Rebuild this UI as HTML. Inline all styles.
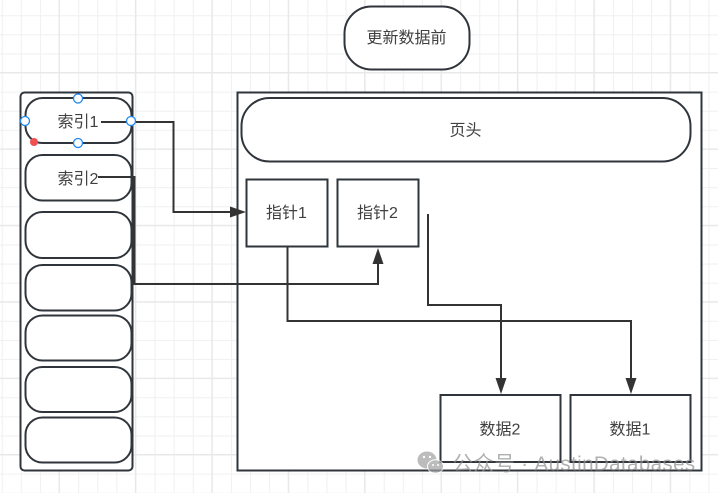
<!DOCTYPE html>
<html><head><meta charset="utf-8"><style>
html,body{margin:0;padding:0;background:#fff;width:718px;height:493px;overflow:hidden}
svg{display:block}
text{font-family:"Liberation Sans","Noto Sans CJK SC",sans-serif;font-size:16px;fill:#404040;text-anchor:middle;dominant-baseline:central}
.s{fill:#fff;stroke:#2f353b;stroke-width:2}
.c{fill:none;stroke:#333;stroke-width:2}
.a{fill:#333}
.h{fill:#fff;stroke:#1e88f0;stroke-width:1.3}
</style></head><body>
<svg width="718" height="493" viewBox="0 0 718 493" xmlns="http://www.w3.org/2000/svg">
<defs>
<pattern id="g" x="1.7" y="15.2" width="19.1" height="19.1" patternUnits="userSpaceOnUse"><path d="M0.5 0V19.1M0 0.5H19.1" fill="none" stroke="#f1f1f1" stroke-width="1.2"/></pattern>
<pattern id="G" x="58.500" y="72" width="76.4" height="76.4" patternUnits="userSpaceOnUse"><path d="M0.5 0V76.4M0 0.5H76.4" fill="none" stroke="#e8e8e8" stroke-width="1.6"/></pattern>
</defs>
<rect width="718" height="493" fill="#fff"/>
<rect width="718" height="493" fill="url(#g)"/>
<rect width="718" height="493" fill="url(#G)"/>

<rect class="s" x="344.500" y="6.500" width="125" height="63" rx="27" ry="27"/>
<text x="406.500" y="38.500">更新数据前</text>

<rect class="s" x="237.500" y="92.500" width="464" height="378"/>
<rect class="s" x="241.500" y="98" width="449" height="63.500" rx="28" ry="28"/>
<text x="465.500" y="131">页头</text>

<rect class="s" x="20.500" y="92.500" width="112" height="378" rx="4" ry="4"/>
<rect class="s" x="25.500" y="98" width="106" height="45" rx="17" ry="17"/>
<rect class="s" x="25.500" y="155" width="106" height="45.500" rx="17" ry="17"/>
<rect class="s" x="25.500" y="212" width="106" height="46" rx="17" ry="17"/>
<rect class="s" x="25.500" y="265" width="106" height="45.500" rx="17" ry="17"/>
<rect class="s" x="25.500" y="315.500" width="106" height="45" rx="17" ry="17"/>
<rect class="s" x="25.500" y="367" width="106" height="45" rx="17" ry="17"/>
<rect class="s" x="25.500" y="417.500" width="106" height="45" rx="17" ry="17"/>
<text x="78" y="122.500">索引1</text>
<text x="78" y="179.500">索引2</text>

<rect class="s" x="246.500" y="179.500" width="81" height="67"/>
<rect class="s" x="337.500" y="179.500" width="81" height="67"/>
<rect class="s" x="440.500" y="395" width="120" height="67"/>
<rect class="s" x="570.500" y="395" width="120" height="67"/>
<text x="286.500" y="213.500">指针1</text>
<text x="377.500" y="213.500">指针2</text>
<text x="500" y="430">数据2</text>
<text x="630" y="430">数据1</text>

<path class="c" d="M101 122H173.500V212H233"/>
<path class="a" d="M246 212L230 206.500V217.500Z"/>
<path class="c" d="M98 177H134.500V284H378V262"/>
<path class="a" d="M378 248L372.500 264H383.500Z"/>
<path class="c" d="M287.500 246V321H631V381"/>
<path class="a" d="M631 394L625.500 378H636.500Z"/>
<path class="c" d="M428 214V305H501V381"/>
<path class="a" d="M501 394L495.500 378H506.500Z"/>

<circle class="h" cx="78" cy="98.500" r="4.500"/>
<circle class="h" cx="25" cy="121" r="4.500"/>
<circle class="h" cx="131" cy="121" r="4.500"/>
<circle class="h" cx="78" cy="143" r="4.500"/>
<circle cx="34" cy="142" r="4" fill="#f05050"/>

<g opacity="0.7">
<ellipse cx="427" cy="460" rx="9.500" ry="8.500" fill="#a0a0a0"/>
<ellipse cx="435.500" cy="466.500" rx="8" ry="6.800" fill="#a0a0a0" stroke="#fff" stroke-width="1"/>
<circle cx="424" cy="457" r="1.200" fill="#fff"/>
<circle cx="430" cy="457" r="1.200" fill="#fff"/>
<circle cx="433" cy="465" r="1" fill="#fff"/>
<circle cx="438" cy="465" r="1" fill="#fff"/>
<text x="574" y="464" style="font-size:20.500px;fill:#8f8f8f;letter-spacing:0.4px">公众号 · AustinDatabases</text>
</g>
</svg>
</body></html>
